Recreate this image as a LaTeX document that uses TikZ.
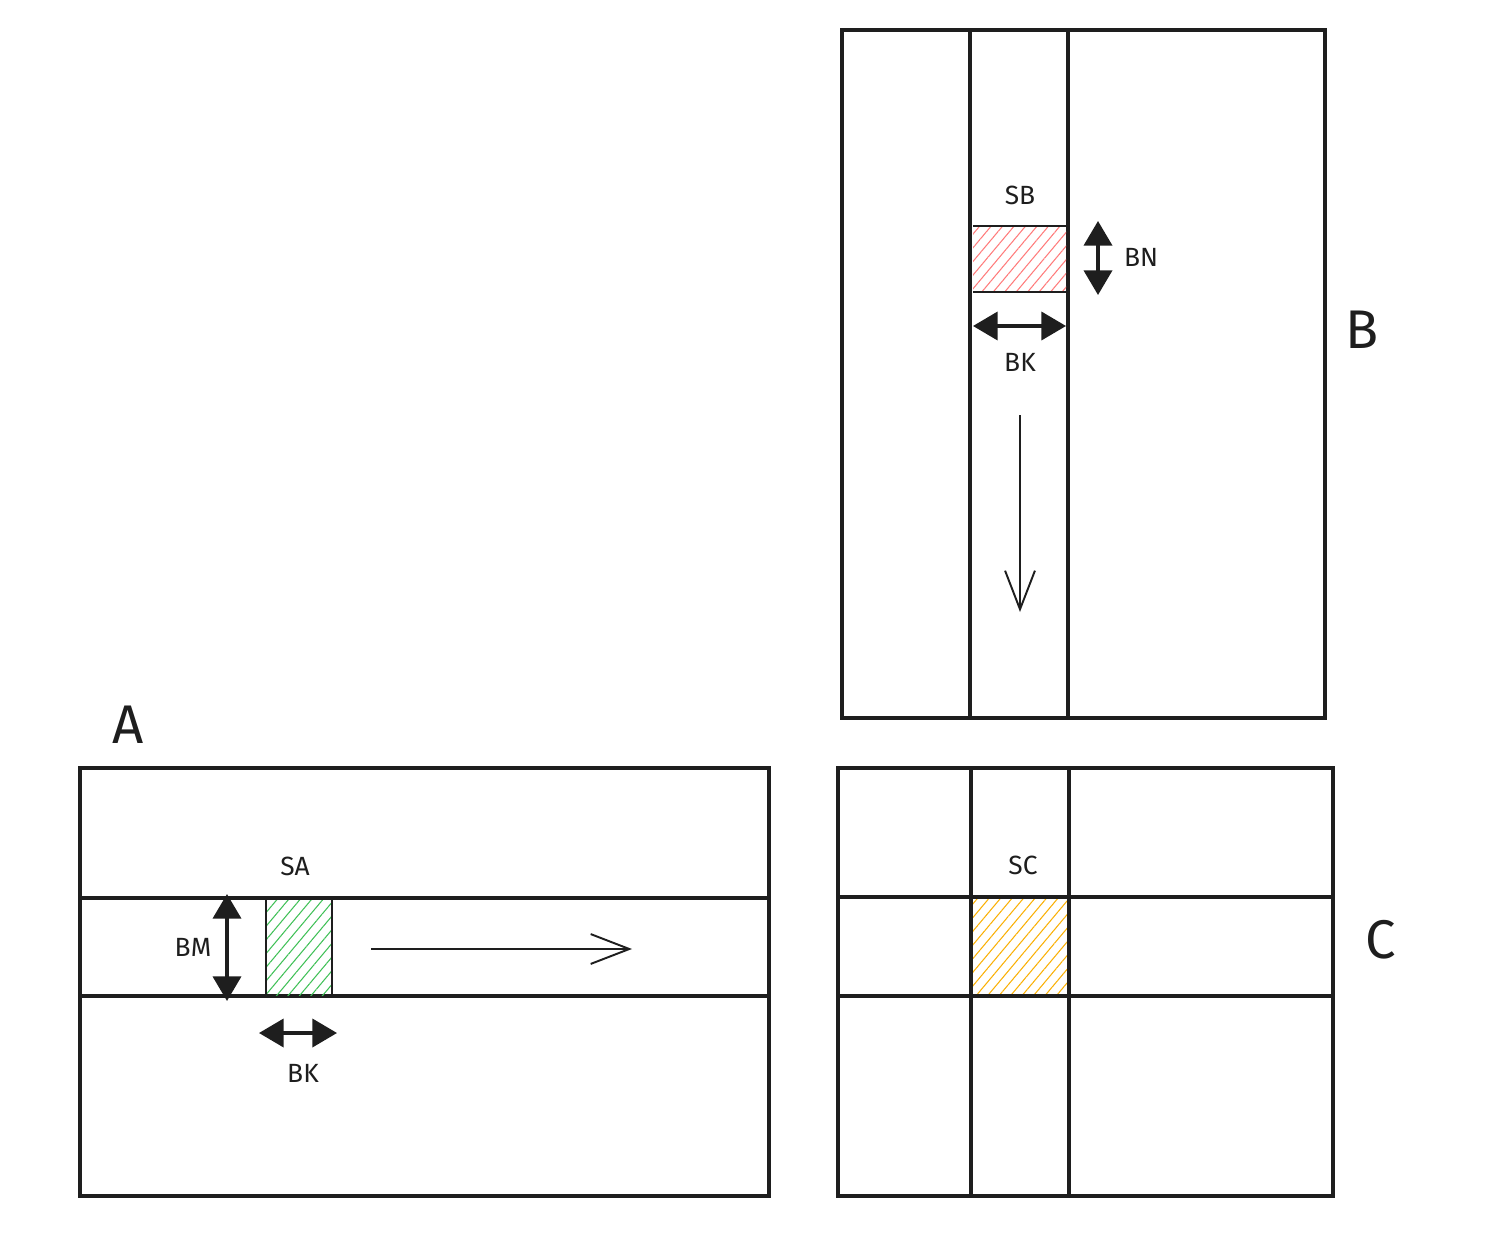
\documentclass[tikz,border=0pt]{standalone}
\usepackage{fontspec}
\setmainfont{Fira Sans}
\usetikzlibrary{arrows.meta,patterns.meta}
\definecolor{ink}{HTML}{1E1E1E}
\definecolor{hred}{HTML}{FF7B7B}
\definecolor{hgreen}{HTML}{40C057}
\definecolor{horange}{HTML}{FAB005}
\tikzset{
  mat/.style={draw=ink, line width=1.9pt},
  thin/.style={draw=ink, line width=0.9pt},
  hatch/.style={pattern={Lines[angle=50,distance=5pt,line width=0.6pt]}},
  dbl/.style={draw=ink, line width=1.9pt, {Triangle[length=14pt,width=16pt]}-{Triangle[length=14pt,width=16pt]}},
  flow/.style={draw=ink, line width=1.1pt, -{Straight Barb[length=22pt,width=17pt,line width=1.1pt]}},
  small/.style={text=ink, font=\fontsize{15}{17}\selectfont},
  big/.style={text=ink, font=\fontsize{31}{35}\selectfont}
}
\begin{document}
\begin{tikzpicture}[x=0.02cm,y=-0.02cm]
\useasboundingbox (0,0) rectangle (1512,1257);
% ---------- Matrix B ----------
\draw[mat] (842,30) rectangle (1325,718);
\draw[mat] (970,30) -- (970,718);
\draw[mat] (1068,30) -- (1068,718);
\path[hatch, pattern color=hred] (973,226) rectangle (1066,292);
\draw[thin] (973,226) -- (1066,226);
\draw[thin] (973,292) -- (1066,292);
\node[small] (sb) at (1020,195) {SB};
\coordinate (bn1) at (1098,221);
\coordinate (bn2) at (1098,295);
\draw[dbl] (bn1) -- (bn2);
\node[small, anchor=west] (bn) at (1118,257) {BN};
\coordinate (bk1) at (973,326);
\coordinate (bk2) at (1066,326);
\draw[dbl] (bk1) -- (bk2);
\node[small] (bkb) at (1020,362) {BK};
\coordinate (fb1) at (1020,415);
\coordinate (fb2) at (1020,612);
\draw[flow] (fb1) -- (fb2);
\node[big] (labB) at (1362,330) {B};
% ---------- Matrix A ----------
\draw[mat] (80,768) rectangle (769,1196);
\draw[mat] (80,898) -- (769,898);
\draw[mat] (80,996) -- (769,996);
\path[hatch, pattern color=hgreen] (266,900) rectangle (332,995);
\draw[thin] (266,900) -- (266,995);
\draw[thin] (332,900) -- (332,995);
\node[small] (sa) at (295,866) {SA};
\coordinate (bm1) at (227,894);
\coordinate (bm2) at (227,1001);
\draw[dbl] (bm1) -- (bm2);
\node[small] (bm) at (193,947) {BM};
\coordinate (ka1) at (259,1033);
\coordinate (ka2) at (337,1033);
\draw[dbl] (ka1) -- (ka2);
\node[small] (bka) at (303,1073) {BK};
\coordinate (fa1) at (371,949);
\coordinate (fa2) at (632,949);
\draw[flow] (fa1) -- (fa2);
\node[big] (labA) at (128,725) {A};
% ---------- Matrix C ----------
\draw[mat] (838,768) rectangle (1333,1196);
\draw[mat] (971,768) -- (971,1196);
\draw[mat] (1069,768) -- (1069,1196);
\draw[mat] (838,897) -- (1333,897);
\draw[mat] (838,996) -- (1333,996);
\path[hatch, pattern color=horange] (971,897) rectangle (1069,996);
\draw[mat] (971,897) rectangle (1069,996);
\node[small] (sc) at (1023,865) {SC};
\node[big] (labC) at (1381,940) {C};
\end{tikzpicture}
\end{document}
